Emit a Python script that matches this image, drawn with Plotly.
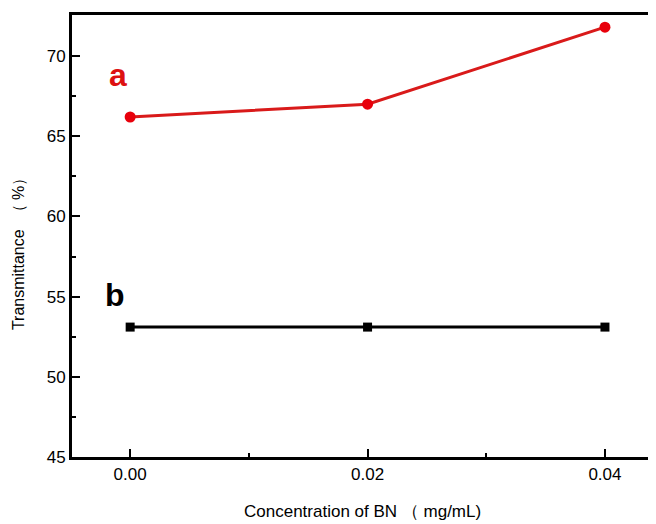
import plotly.graph_objects as go

conc = [0.00, 0.02, 0.04]
series_a = [66.2, 67.0, 71.8]
series_b = [53.1, 53.1, 53.1]
x_ticks = [0.00, 0.02, 0.04]
x_tick_labels = ["0.00", "0.02", "0.04"]
y_ticks = [45, 50, 55, 60, 65, 70]

fig = go.Figure()
fig.add_trace(go.Scatter(x=conc, y=series_a, mode="lines+markers",
                         line=dict(color="#d91a1a", width=3),
                         marker=dict(symbol="circle", size=11, color="#e8000b"),
                         showlegend=False))
fig.add_trace(go.Scatter(x=conc, y=series_b, mode="lines+markers",
                         line=dict(color="black", width=3),
                         marker=dict(symbol="square", size=9, color="black"),
                         showlegend=False))

fig.add_annotation(x=-0.001, y=68.8, text="<b>a</b>", showarrow=False,
                   font=dict(size=32, color="#dd1111", family="Liberation Sans"), xanchor="center")
fig.add_annotation(x=-0.0013, y=55.1, text="<b>b</b>", showarrow=False,
                   font=dict(size=32, color="black", family="Liberation Sans"), xanchor="center")

# axis titles
fig.add_annotation(xref="paper", yref="paper", x=0.4966, y=-0.1244,
                   text="Concentration of BN （ mg/mL)",
                   showarrow=False, font=dict(size=17), xanchor="center", yanchor="middle")
fig.add_annotation(xref="paper", yref="paper", x=-0.0925, y=0.468,
                   text="Transmittance \u00a0（ %）",
                   showarrow=False, font=dict(size=16), textangle=-90, xanchor="center", yanchor="middle")

fig.update_layout(
    width=648, height=516,
    margin=dict(l=64, r=0, t=7, b=67),
    plot_bgcolor="white", paper_bgcolor="white",
    font=dict(family="Liberation Sans", size=17, color="black"),
    xaxis=dict(range=[-0.0049, 0.0443], tickvals=x_ticks, ticktext=x_tick_labels,
               automargin=False,
               showline=True, linecolor="black", linewidth=3, mirror=True,
               ticks="inside", ticklen=8, tickwidth=2, tickcolor="black",
               minor=dict(ticks="inside", ticklen=4, tickwidth=2, dtick=0.01, tick0=0, tickcolor="black"),
               showgrid=False, zeroline=False),
    yaxis=dict(range=[45, 72.56], tickvals=y_ticks, automargin=False,
               showline=True, linecolor="black", linewidth=3, mirror=False,
               ticks="inside", ticklen=8, tickwidth=2, tickcolor="black",
               minor=dict(ticks="inside", ticklen=4, tickwidth=2, dtick=2.5, tick0=45, tickcolor="black"),
               showgrid=False, zeroline=False),
)
fig.write_html("out.html")
